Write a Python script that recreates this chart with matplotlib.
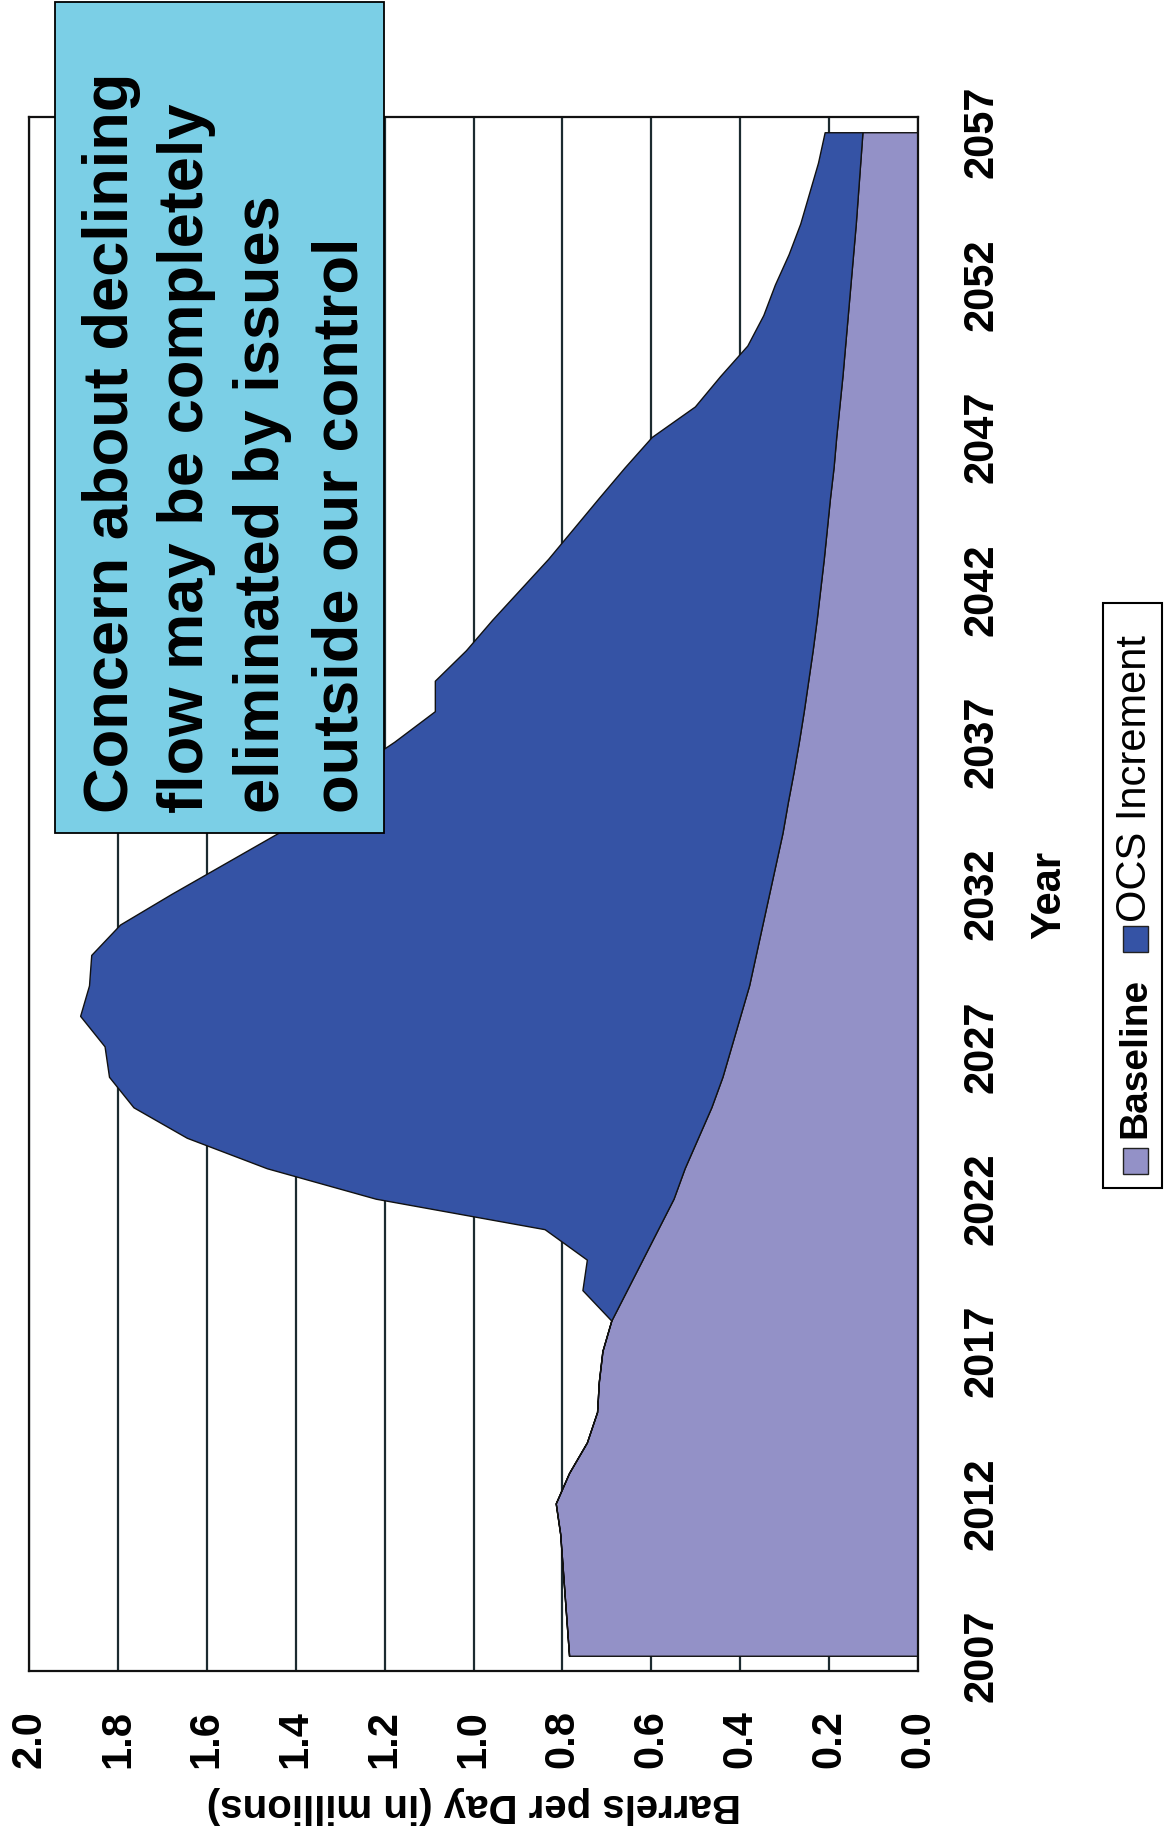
import numpy as np
import matplotlib
matplotlib.use('Agg')
import matplotlib.pyplot as plt
from matplotlib.patches import Rectangle

# chart is drawn turned a quarter turn (years run bottom -> top, values right -> left)
years = list(range(2007, 2058))
baseline = [0.785, 0.79, 0.795, 0.80, 0.805, 0.815, 0.785, 0.745, 0.722, 0.718,
            0.71, 0.69, 0.655, 0.62, 0.585, 0.55, 0.525, 0.495, 0.465, 0.44,
            0.42, 0.40, 0.38, 0.365, 0.35, 0.335, 0.32, 0.305, 0.293, 0.28,
            0.268, 0.257, 0.247, 0.237, 0.228, 0.22, 0.212, 0.205, 0.198, 0.19,
            0.184, 0.177, 0.17, 0.164, 0.158, 0.152, 0.146, 0.14, 0.135, 0.13,
            0.125]
ocs_increment = [0, 0, 0, 0, 0, 0, 0, 0, 0, 0,
                 0, 0, 0.10, 0.125, 0.255, 0.67, 0.94, 1.15, 1.30, 1.38,
                 1.41, 1.485, 1.485, 1.495, 1.445, 1.345, 1.24, 1.135, 1.07, 1.00,
                 0.91, 0.83, 0.84, 0.78, 0.73, 0.675, 0.62, 0.57, 0.52, 0.47,
                 0.415, 0.325, 0.275, 0.22, 0.19, 0.17, 0.145, 0.125, 0.11, 0.095,
                 0.085]
year_ticks = [2007, 2012, 2017, 2022, 2027, 2032, 2037, 2042, 2047, 2052, 2057]
value_ticks = [0.0, 0.2, 0.4, 0.6, 0.8, 1.0, 1.2, 1.4, 1.6, 1.8, 2.0]
value_labels = ['0.0', '0.2', '0.4', '0.6', '0.8', '1.0', '1.2', '1.4', '1.6', '1.8', '2.0']
note_lines = ['Concern about declining', 'flow may be completely',
              'eliminated by issues', 'outside our control']
series_names = ['Baseline', 'OCS Increment']

c_base = '#9391c7'
c_ocs = '#3553a5'
c_note = '#7bcfe6'
c_grid = '#1c2b30'

narrow = ['Liberation Sans Narrow', 'Liberation Sans']
plt.rcParams['font.family'] = ['Liberation Sans', 'DejaVu Sans']

W, H = 1168, 1842
fig = plt.figure(figsize=(W / 100, H / 100), dpi=100)
ax = fig.add_axes([29 / W, 1 - 1671 / H, (918 - 29) / W, (1671 - 117) / H])

base = np.array(baseline)
total = base + np.array(ocs_increment)
ax.fill_betweenx(years, 0, base, facecolor=c_base, edgecolor='#111111', lw=1.0, zorder=2)
ax.fill_betweenx(years, base, total, facecolor=c_ocs, edgecolor='#111111', lw=1.0, zorder=3)

ax.set_xlim(2.0, 0.0)
ax.set_ylim(2006.5, 2057.5)
ax.set_xticks(value_ticks)
ax.set_xticklabels(value_labels, rotation=90, fontsize=30, fontweight='bold', family=narrow)
ax.yaxis.tick_right()
ax.set_yticks(year_ticks)
ax.set_yticklabels([str(y) for y in year_ticks], rotation=90, va='center',
                   fontsize=30, fontweight='bold', family=narrow)
ax.tick_params(axis='x', length=0, pad=28)
ax.tick_params(axis='y', length=0, pad=31)
ax.grid(axis='x', color=c_grid, lw=1.6)
ax.set_axisbelow(True)
for s in ax.spines.values():
    s.set_color('#111111')
    s.set_linewidth(1.6)

fig.text(474 / W, 1 - 1805 / H, 'Barrels per Day (in millions)', rotation=180,
         ha='center', va='center', fontsize=29, fontweight='bold')
fig.text(1049 / W, 1 - 895 / H, 'Year', rotation=90, ha='center', va='center',
         fontsize=30, fontweight='bold', family=narrow)

# note box
fig.add_artist(Rectangle((55 / W, 1 - 833 / H), (384 - 55) / W, (833 - 2) / H,
                         transform=fig.transFigure, facecolor=c_note,
                         edgecolor='black', lw=1.3, zorder=5))
for xl, line in zip([82, 157, 233, 312], note_lines):
    fig.text(xl / W, 1 - 813 / H, line, rotation=90, ha='left', va='bottom',
             fontsize=45.5, fontweight='bold', zorder=6)

# legend (turned like the rest)
fig.add_artist(Rectangle((1103 / W, 1 - 1188 / H), (1162 - 1103) / W, (1188 - 603) / H,
                         transform=fig.transFigure, facecolor='white',
                         edgecolor='black', lw=1.5, zorder=5))
fig.add_artist(Rectangle((1123 / W, 1 - 1174 / H), 25 / W, 26 / H,
                         transform=fig.transFigure, facecolor=c_base,
                         edgecolor='#222222', lw=1.0, zorder=6))
fig.add_artist(Rectangle((1123 / W, 1 - 952 / H), 25 / W, 26 / H,
                         transform=fig.transFigure, facecolor=c_ocs,
                         edgecolor='#222222', lw=1.0, zorder=6))
fig.text(1135 / W, 1 - 1138 / H, series_names[0], rotation=90, ha='center', va='bottom',
         fontsize=28, fontweight='bold', zorder=6)
fig.text(1135 / W, 1 - 922 / H, series_names[1], rotation=90, ha='center', va='bottom',
         fontsize=30, zorder=6)

fig.savefig('out.png', dpi=100, facecolor='white')
